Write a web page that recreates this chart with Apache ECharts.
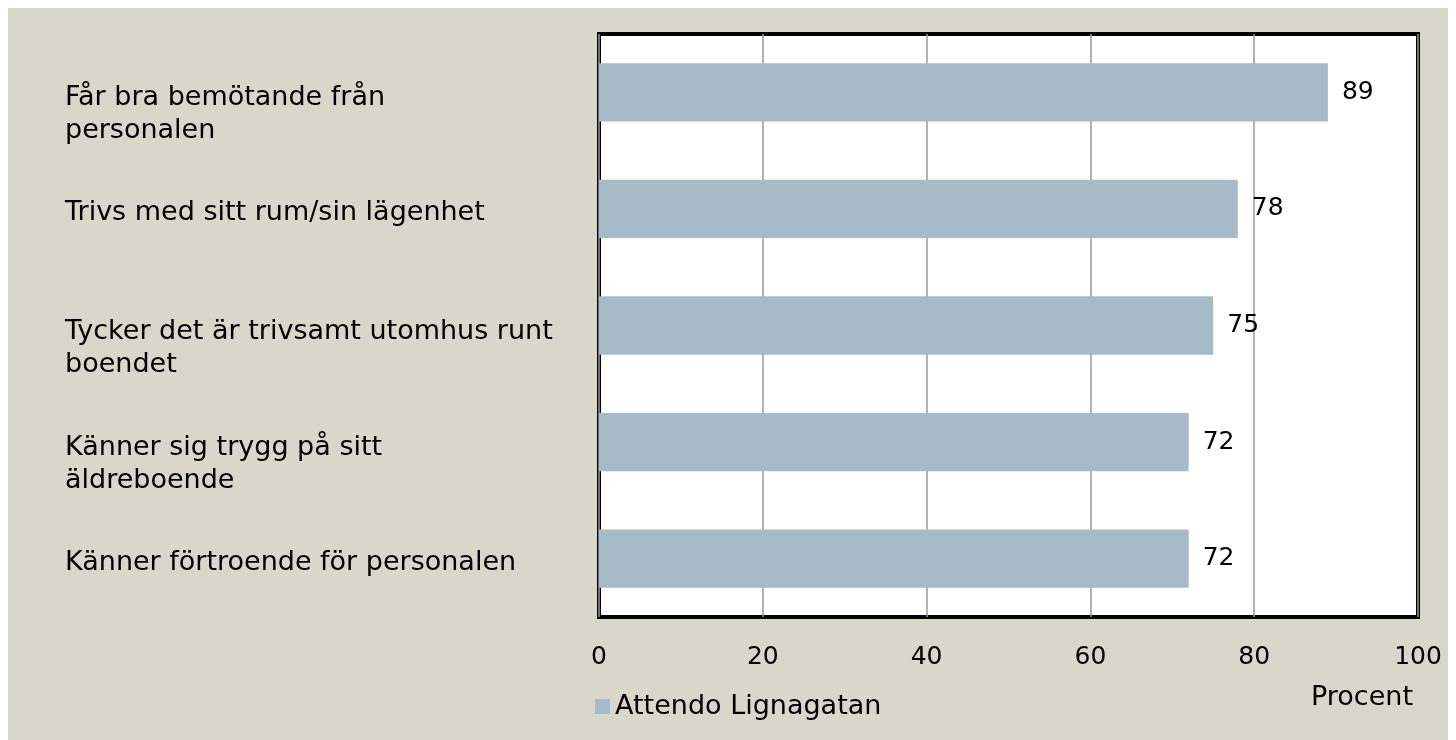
<!DOCTYPE html>
<html>
<head>
<meta charset="utf-8">
<title></title>
<style type="text/css">
  body{ margin: 8px; background: #fff; }
  #main{ width: 1448px; height: 732px; background: #D9D7CB; }
</style>
</head>
<body>
<div id="main"></div>
<script src="https://cdn.jsdelivr.net/npm/echarts@6/dist/echarts.min.js"></script>
<script type="text/javascript">
  // frågor, uppifrån och ner
  var categories = [
    'Får bra bemötande från\npersonalen',
    'Trivs med sitt rum/sin lägenhet',
    'Tycker det är trivsamt utomhus runt\nboendet',
    'Känner sig trygg på sitt\näldreboende',
    'Känner förtroende för personalen'
  ];
  var values = [89, 78, 75, 72, 72];
  var seriesName = 'Attendo Lignagatan';
  var xTicks = [0, 20, 40, 60, 80, 100];

  var font = 'DejaVu Sans';
  var fs = 27;   // text
  var fsNum = 25; // siffror

  var myChart = echarts.init(document.getElementById('main'));
  var option = {
    backgroundColor: '#D9D7CB',
    animation: false,
    textStyle: { fontFamily: font },
    grid: {
      left: 591, right: 38, top: 26, bottom: 123,
      outerBoundsMode: 'none',
      containLabel: false,
      show: true, backgroundColor: '#ffffff',
      borderColor: '#000000', borderWidth: 4
    },
    legend: {
      data: [seriesName],
      left: 582, top: 680,
      icon: 'rect', itemWidth: 15, itemHeight: 15, itemGap: 5,
      textStyle: { fontFamily: font, fontSize: fs, color: '#000' }
    },
    xAxis: {
      type: 'value',
      min: xTicks[0], max: xTicks[xTicks.length - 1], interval: 20,
      name: 'Procent',
      nameLocation: 'end',
      nameGap: -5,
      nameTextStyle: { fontFamily: font, fontSize: fs, color: '#000', align: 'right', verticalAlign: 'top', padding: [67, 0, 0, 0] },
      axisLine: { show: false },
      axisTick: { show: false },
      axisLabel: { fontFamily: font, fontSize: fsNum, color: '#000', margin: 28 },
      splitLine: { show: true, lineStyle: { color: '#999999', width: 1.5 } }
    },
    yAxis: {
      type: 'category',
      inverse: true,
      data: categories,
      axisLine: { show: false },
      axisTick: { show: false },
      axisLabel: {
        align: 'left', margin: 534,
        formatter: function (v) {
          // tom rad överst så att första raden hamnar vid stapeln
          var gap = v.indexOf('\n') >= 0 ? 'g2' : 'g1';
          return '{' + gap + '| }\n{t|' + v + '}';
        },
        rich: {
          g1: { fontSize: 4, lineHeight: 8 },
          g2: { fontSize: 4, lineHeight: 45 },
          t: { fontFamily: font, fontSize: fs, color: '#000', lineHeight: 33 }
        }
      }
    },
    series: [{
      name: seriesName,
      type: 'bar',
      data: values,
      barWidth: '50%',
      itemStyle: { color: '#A6BBC7' },
      label: { show: true, position: 'right', distance: 14, fontFamily: font, fontSize: fsNum, color: '#000' }
    }]
  };
  myChart.setOption(option);
</script>
</body>
</html>
